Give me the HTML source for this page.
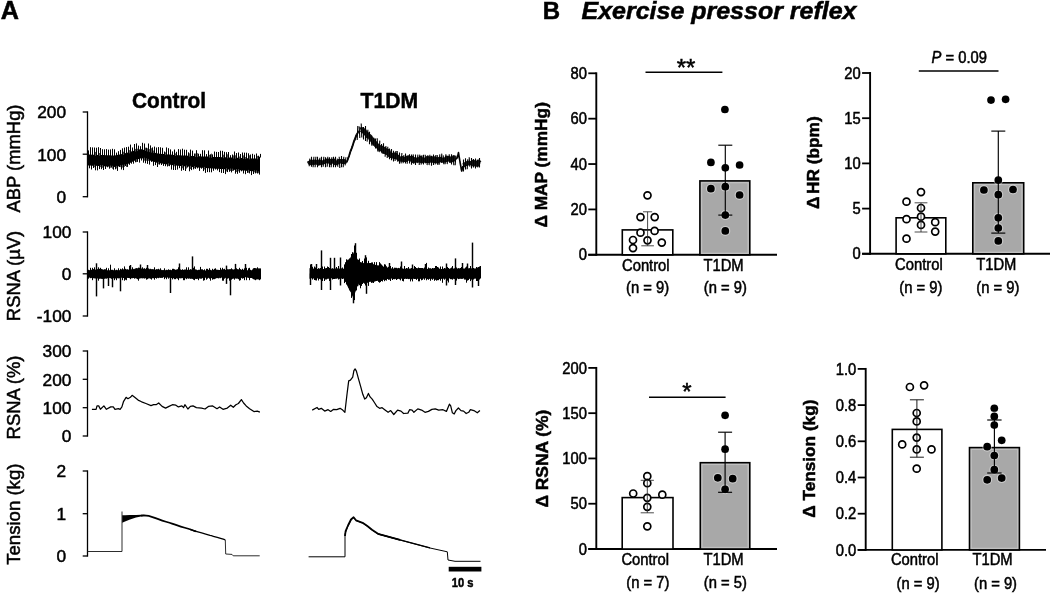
<!DOCTYPE html>
<html><head><meta charset="utf-8"><title>Figure</title>
<style>
html,body{margin:0;padding:0;background:#fff;}
body{width:1050px;height:593px;overflow:hidden;font-family:"Liberation Sans",sans-serif;}
svg{display:block;font-family:"Liberation Sans",sans-serif;filter:blur(0.45px);}
text{stroke:#000;stroke-width:0.5px;paint-order:stroke fill;}
</style></head><body>
<svg width="1050" height="593" viewBox="0 0 1050 593">
<rect width="1050" height="593" fill="#fff"/>
<text x="0.8" y="18.5" font-size="25.2" text-anchor="start" font-weight="bold" font-style="normal" fill="#000">A</text>
<text transform="translate(169.1 107.8) scale(0.935 1)" font-size="22.3" text-anchor="middle" font-weight="bold" font-style="normal" fill="#000">Control</text>
<text transform="translate(389.3 107.8) scale(0.95 1)" font-size="22.3" text-anchor="middle" font-weight="bold" font-style="normal" fill="#000">T1DM</text>
<line x1="87.5" y1="111.35" x2="87.5" y2="197.35" stroke="#000" stroke-width="1.3" stroke-linecap="butt"/>
<line x1="82.7" y1="112" x2="87.5" y2="112" stroke="#000" stroke-width="1.3" stroke-linecap="butt"/>
<text x="66" y="118.3" font-size="17.3" text-anchor="end" font-weight="normal" font-style="normal" fill="#000">200</text>
<line x1="82.7" y1="154.2" x2="87.5" y2="154.2" stroke="#000" stroke-width="1.3" stroke-linecap="butt"/>
<text x="66" y="160.5" font-size="17.3" text-anchor="end" font-weight="normal" font-style="normal" fill="#000">100</text>
<line x1="82.7" y1="196.7" x2="87.5" y2="196.7" stroke="#000" stroke-width="1.3" stroke-linecap="butt"/>
<text x="66" y="203.0" font-size="17.3" text-anchor="end" font-weight="normal" font-style="normal" fill="#000">0</text>
<line x1="87.5" y1="231.35" x2="87.5" y2="316.65" stroke="#000" stroke-width="1.3" stroke-linecap="butt"/>
<line x1="82.7" y1="232" x2="87.5" y2="232" stroke="#000" stroke-width="1.3" stroke-linecap="butt"/>
<text x="71.4" y="238.3" font-size="17.3" text-anchor="end" font-weight="normal" font-style="normal" fill="#000">100</text>
<line x1="82.7" y1="273.8" x2="87.5" y2="273.8" stroke="#000" stroke-width="1.3" stroke-linecap="butt"/>
<text x="71.4" y="280.1" font-size="17.3" text-anchor="end" font-weight="normal" font-style="normal" fill="#000">0</text>
<line x1="82.7" y1="316" x2="87.5" y2="316" stroke="#000" stroke-width="1.3" stroke-linecap="butt"/>
<text x="71.4" y="322.3" font-size="17.3" text-anchor="end" font-weight="normal" font-style="normal" fill="#000">-100</text>
<line x1="87.5" y1="350.35" x2="87.5" y2="436.65" stroke="#000" stroke-width="1.3" stroke-linecap="butt"/>
<line x1="82.7" y1="351" x2="87.5" y2="351" stroke="#000" stroke-width="1.3" stroke-linecap="butt"/>
<text x="71.4" y="357.3" font-size="17.3" text-anchor="end" font-weight="normal" font-style="normal" fill="#000">300</text>
<line x1="82.7" y1="379.3" x2="87.5" y2="379.3" stroke="#000" stroke-width="1.3" stroke-linecap="butt"/>
<text x="71.4" y="385.6" font-size="17.3" text-anchor="end" font-weight="normal" font-style="normal" fill="#000">200</text>
<line x1="82.7" y1="407.7" x2="87.5" y2="407.7" stroke="#000" stroke-width="1.3" stroke-linecap="butt"/>
<text x="71.4" y="414.0" font-size="17.3" text-anchor="end" font-weight="normal" font-style="normal" fill="#000">100</text>
<line x1="82.7" y1="436" x2="87.5" y2="436" stroke="#000" stroke-width="1.3" stroke-linecap="butt"/>
<text x="71.4" y="442.3" font-size="17.3" text-anchor="end" font-weight="normal" font-style="normal" fill="#000">0</text>
<line x1="87.5" y1="470.35" x2="87.5" y2="556.65" stroke="#000" stroke-width="1.3" stroke-linecap="butt"/>
<line x1="82.7" y1="471" x2="87.5" y2="471" stroke="#000" stroke-width="1.3" stroke-linecap="butt"/>
<text x="66" y="477.3" font-size="17.3" text-anchor="end" font-weight="normal" font-style="normal" fill="#000">2</text>
<line x1="82.7" y1="513.7" x2="87.5" y2="513.7" stroke="#000" stroke-width="1.3" stroke-linecap="butt"/>
<text x="66" y="520.0" font-size="17.3" text-anchor="end" font-weight="normal" font-style="normal" fill="#000">1</text>
<line x1="82.7" y1="556" x2="87.5" y2="556" stroke="#000" stroke-width="1.3" stroke-linecap="butt"/>
<text x="66" y="562.3" font-size="17.3" text-anchor="end" font-weight="normal" font-style="normal" fill="#000">0</text>
<text x="19.6" y="158.5" font-size="18.4" text-anchor="middle" font-weight="normal" font-style="normal" fill="#000" transform="rotate(-90 19.6 158.5)">ABP (mmHg)</text>
<text x="19.6" y="276" font-size="18.4" text-anchor="middle" font-weight="normal" font-style="normal" fill="#000" transform="rotate(-90 19.6 276)">RSNA (µV)</text>
<text x="19.6" y="397.5" font-size="18.4" text-anchor="middle" font-weight="normal" font-style="normal" fill="#000" transform="rotate(-90 19.6 397.5)">RSNA (%)</text>
<text x="19.6" y="514.2" font-size="18.6" text-anchor="middle" font-weight="normal" font-style="normal" fill="#000" transform="rotate(-90 19.6 514.2)">Tension (kg)</text>
<polygon points="88,154.5 90,154.6 92,154.7 94,154.8 96,154.8 98,154.9 100,155 102,155.1 104,155.1 106,155.2 108,155.3 110,155.3 112,155.4 114,155.5 116,155.3 118,154.8 120,154.4 122,153.9 124,153.5 126,153 128,152.4 130,151.9 132,151.3 134,150.8 136,150.2 138,149.8 140,149.2 142,149.3 144,149.9 146,150.4 148,151 150,151.5 152,152 154,152.5 156,153 158,153.5 160,153.7 162,153.9 164,154 166,154.2 168,154.4 170,154.6 172,154.7 174,154.9 176,155.1 178,155.2 180,155.3 182,155.4 184,155.5 186,155.6 188,155.7 190,155.8 192,155.9 194,156 196,156.1 198,156.2 200,156.3 202,156.4 204,156.5 206,156.5 208,156.6 210,156.7 212,156.8 214,156.9 216,156.9 218,157 220,157.1 222,157.2 224,157.2 226,157.3 228,157.4 230,157.5 232,157.6 234,157.7 236,157.7 238,157.8 240,157.9 242,158 244,158.1 246,158.2 248,158.3 250,158.3 252,158.4 254,158.5 256,158.6 258,157.6 260,156.5 260,174 258,172.8 256,171.5 254,171.3 252,171.2 250,171.1 248,170.9 246,170.8 244,170.6 242,170.4 240,170.3 238,170.2 236,170 234,169.8 232,169.7 230,169.6 228,169.4 226,169.3 224,169.2 222,169 220,168.9 218,168.8 216,168.7 214,168.6 212,168.4 210,168.3 208,168.2 206,168.1 204,167.9 202,167.8 200,167.7 198,167.5 196,167.3 194,167.2 192,167 190,166.8 188,166.6 186,166.5 184,166.3 182,166.1 180,165.9 178,165.8 176,165.6 174,165.4 172,165.1 170,164.8 168,164.5 166,164.2 164,163.9 162,163.6 160,163.3 158,163 156,162.4 154,161.8 152,161.2 150,160.6 148,160 146,159.4 144,158.9 142,158.3 140,158.4 138,159.2 136,160.1 134,161 132,162 130,163 128,164 126,165 124,165.4 122,165.7 120,166.1 118,166.5 116,166.8 114,166.9 112,166.8 110,166.7 108,166.5 106,166.4 104,166.3 102,166.1 100,166 98,165.9 96,165.8 94,165.8 92,165.7 90,165.6 88,165.5" fill="#000"/>
<path d="M88.5 155.5V150.4M89.5 164.6V168.3M90.5 155.6V147.2M91.5 164.6V169.5M92.5 155.7V147.4M93.5 164.7V168M94.5 155.8V147.5M95.5 164.8V170.3M96.5 155.9V147.7M97.5 164.9V170.4M98.5 155.9V147.2M99.5 165V169.1M100.5 156V148M101.5 165.1V169.2M102.5 156.1V149.2M103.5 165.2V170M104.5 156.2V149.3M105.5 165.4V169M106.5 156.2V149.1M107.5 165.5V167.3M108.5 156.3V149.6M109.5 165.6V168.7M110.5 156.3V149.4M111.5 165.8V167.6M112.5 156.4V148.8M113.5 165.9V169.7M114.5 156.5V149.3M115.5 165.9V169.3M116.5 156.2V152.6M117.5 165.5V170.9M118.5 155.7V151.2M119.5 165.2V167M120.5 155.2V149.9M121.5 164.8V169.5M122.5 154.8V148.3M123.5 164.5V170.1M124.5 154.3V147.6M125.5 164.1V166M126.5 153.9V147.1M127.5 163.2V166.9M128.5 153.3V146.7M129.5 162.2V164.8M130.5 152.8V144.6M131.5 161.2V163.7M132.5 152.2V147.5M133.5 160.2V163.7M134.5 151.6V144M135.5 159.3V162.3M136.5 151.1V143.4M137.5 158.5V161.9M138.5 150.6V145.6M139.5 157.6V162.6M140.5 150.1V146.2M141.5 157.1V160.5M142.5 150.4V142.8M143.5 157.7V162.7M144.5 151V143.5M145.5 158.3V163.3M146.5 151.6V147.7M147.5 158.9V163.9M148.5 152.1V143.5M149.5 159.4V164.6M150.5 152.6V145.4M151.5 160.1V161.9M152.5 153.1V147.4M153.5 160.7V165.8M154.5 153.6V146.6M155.5 161.2V165.1M156.5 154.1V147.5M157.5 161.8V167M158.5 154.5V147.1M159.5 162.2V164.6M160.5 154.7V147.3M161.5 162.5V165M162.5 154.9V147.8M163.5 162.8V165.9M164.5 155.1V151.5M165.5 163.1V166.2M166.5 155.2V147.4M167.5 163.4V166.5M168.5 155.4V148.2M169.5 163.7V166.2M170.5 155.6V149.4M171.5 164V169.6M172.5 155.8V151.4M173.5 164.3V170M174.5 156V149.5M175.5 164.5V170M176.5 156.1V151.8M177.5 164.7V169.6M178.5 156.2V149.1M179.5 164.9V168.2M180.5 156.3V149.5M181.5 165.1V170.8M182.5 156.4V148.7M183.5 165.2V170.1M184.5 156.5V149.7M185.5 165.4V171M186.5 156.6V149.8M187.5 165.6V167.5M188.5 156.7V152.3M189.5 165.8V171.3M190.5 156.8V149.6M191.5 166V170.1M192.5 156.9V150.6M193.5 166.1V169.4M194.5 157V153.5M195.5 166.3V168.9M196.5 157.1V150.2M197.5 166.5V168.4M198.5 157.2V153.7M199.5 166.7V170.9M200.5 157.3V153.8M201.5 166.8V168.7M202.5 157.4V150.2M203.5 166.9V171.1M204.5 157.5V150.3M205.5 167V172.9M206.5 157.6V154.1M207.5 167.2V172.1M208.5 157.6V150.5M209.5 167.3V172.2M210.5 157.7V154.3M211.5 167.4V172.3M212.5 157.8V154.4M213.5 167.5V170.8M214.5 157.9V151.5M215.5 167.6V169.6M216.5 157.9V151.9M217.5 167.8V170.4M218.5 158V152M219.5 167.9V172.1M220.5 158.1V150.7M221.5 168V172.9M222.5 158.2V150.8M223.5 168.1V173M224.5 158.3V151.8M225.5 168.2V174.1M226.5 158.3V152.2M227.5 168.4V172.1M228.5 158.4V152M229.5 168.5V171.8M230.5 158.5V155.2M231.5 168.7V172.4M232.5 158.6V154.5M233.5 168.8V170.7M234.5 158.7V151.5M235.5 169V173.7M236.5 158.8V153M237.5 169.1V173.8M238.5 158.8V152.5M239.5 169.3V172.8M240.5 158.9V154M241.5 169.4V171.3M242.5 159V152.5M243.5 169.6V173.5M244.5 159.1V152.6M245.5 169.7V174.2M246.5 159.2V152.7M247.5 169.9V172.9M248.5 159.3V153.3M249.5 170V173.4M250.5 159.4V154.5M251.5 170.2V175.1M252.5 159.4V153.8M253.5 170.3V174M254.5 159.5V154.7M255.5 170.5V173.4M256.5 159.3V153.5M257.5 171.4V173.5M258.5 158.3V155.7M259.5 172.7V174.6M260.5 157.5V153.9" stroke="#000" stroke-width="1.0" fill="none" stroke-linejoin="round"/>
<path d="M94.5 164.7V167.2M95.5 155.8V151.9M99.5 155.9V153M100.5 165V167.1M102.5 165.1V167.8M110.5 165.6V167.8M112.5 165.8V168.8M116.5 165.9V168.5M120.5 165.2V167.1M122.5 164.8V167.6M123.5 154.8V151.7M124.5 164.5V166.9M126.5 164.1V167M129.5 153.3V150.1M135.5 151.6V148.9M136.5 159.3V162.1M137.5 151.1V148.7M144.5 157.7V160.7M145.5 151V147.7M146.5 158.3V160.8M147.5 151.6V148.3M148.5 158.9V160.9M149.5 152.1V149.1M151.5 152.6V148.2M153.5 153.1V150.5M158.5 161.8V164.3M165.5 155.1V152.3M168.5 163.4V165.9M174.5 164.3V166.3M175.5 156V153.3M182.5 165.1V168.3M186.5 165.4V168.6M189.5 156.7V153.3M190.5 165.8V169M194.5 166.1V168.3M195.5 157V153.5M197.5 157.1V153.2M204.5 166.9V169.5M209.5 157.6V154.8M211.5 157.7V153.6M223.5 158.2V154.7M226.5 168.2V171.4M227.5 158.3V154.3M230.5 168.5V171M232.5 168.7V171M233.5 158.6V155.4M235.5 158.7V155.3M236.5 169V172M238.5 169.1V171.3M239.5 158.8V156.5M243.5 159V155.4M245.5 159.1V157M248.5 169.9V172.7M249.5 159.3V155.3M254.5 170.3V172.3M256.5 170.5V172.8M257.5 159.3V155.9M258.5 171.4V173" stroke="#555" stroke-width="1.0" fill="none" stroke-linejoin="round"/>
<path d="M308.8 160.8L310 163L311.2 161.8L312.4 162L313.6 163L314.8 161.7L316 162L317.2 162.6L318.4 163.4L319.6 161.5L320.8 163L322 162.6L323.2 162.4L324.4 161.7L325.6 161.5L326.8 160.7L328 160.9L329.2 160.7L330.4 162.7L331.6 161.3L332.8 161L334 160.8L335.2 163L336.4 163.1L337.6 162.5L338.8 161.3L340 161.2L341.2 161.4L342.4 161.9L343.6 161L344.8 161.8L346 161.3" stroke="#111" stroke-width="4.4" fill="none" stroke-linejoin="round"/>
<path d="M346 162.5L347.5 160.2L349 156L350.5 151.2L352 147.6L353.5 142.7L355 138.7L356.5 134.8L358 132.4L359.5 131" stroke="#111" stroke-width="1.9" fill="none" stroke-linejoin="round"/>
<path d="M360.5 130L361.7 129.5L362.9 131L364.1 130.7L365.3 132.9L366.5 133.7L367.7 135.9L368.9 135.9L370.1 137.1L371.3 139.2L372.5 140.1L373.7 142.3L374.9 143.1L376.1 144.9L377.3 145.6L378.5 146.9L379.7 148.5L380.9 147.7L382.1 148.3L383.3 151.2L384.5 149.3L385.7 151.9L386.9 152.4L388.1 151.3L389.3 154.6L390.5 155.5L391.7 155.1L392.9 155.9L394.1 156.6L395.3 155L396.5 156.7L397.7 157.1L398.9 158.6L400.1 159L401.3 159.2L402.5 158.6L403.7 159.8L404.9 159.3L406.1 159.5L407.3 158.2L408.5 157.8L409.7 158.3L410.9 159.1L412.1 158.3L413.3 160.7L414.5 159.8L415.7 160.1L416.9 160.1L418.1 160.3L419.3 159.8L420.5 158.3L421.7 160.8L422.9 160.7L424.1 160L425.3 160.1L426.5 160.5L427.7 158.5L428.9 160.7L430.1 159.1L431.3 158.5L432.5 159.1L433.7 160.5L434.9 158.8L436.1 160.5L437.3 161.2L438.5 159.6L439.7 159.3L440.9 159.5L442.1 160.2L443.3 160.4L444.5 159.9L445.7 159.9L446.9 158.1L448.1 158.3L449.3 158.6L450.5 160.2L451.7 158.8L452.9 159.6L454.1 157.8L455.3 157.9" stroke="#111" stroke-width="5.0" fill="none" stroke-linejoin="round"/>
<path d="M456 159.3L457.5 157L458.5 152.5L460 162L461.7 171L463 166" stroke="#000" stroke-width="1.6" fill="none" stroke-linejoin="round"/>
<path d="M463 165.3L464.2 165L465.4 164.1L466.6 163.9L467.8 162.7L469 163.3L470.2 163.1L471.4 163.1L472.6 162.1L473.8 164.4L475 162.3L476.2 164.6L477.4 164.5L478.6 161.8L479.8 163.1" stroke="#111" stroke-width="4.4" fill="none" stroke-linejoin="round"/>
<path d="M309.2 166.2L309.8 158.6M311.5 166.7L311.5 156.8M313.1 167.2L313.9 156.8M315.1 167.2L315.9 156.8M317.5 167.2L317.5 156.8M319.1 165.4L319.9 157.8M321.5 167.2L321.5 156.8M323.2 166.7L323.8 156.8M325.5 167.2L325.5 157.3M327.2 166.7L327.8 156.8M329.5 167.2L329.5 157.3M331.2 167.2L331.8 157.3M333.5 167.2L333.5 156.8M335.5 167.2L335.5 156.8M337.8 166.7L337.2 158.6M339.8 168L339.2 156.8M341.5 167.2L341.5 156M343.2 167.2L343.8 156.8M345.1 165.4L345.9 157.3M347 162.3L348.2 157.2M349 157.1L350.2 151.9M351 151.2L352.2 146M353 145.5L354.2 140.3M355 140.3L356.2 135.1M357.2 140L357.8 126M359.8 138L359.2 126.5M361.8 137.4L361.2 123.4M363.5 139.6L363.5 127M365.5 140.9L365.5 125.9M367.1 141.6L367.9 129.8M369.5 144.2L369.5 131.8M371.8 145.6L371.2 136M373.2 145.8L373.8 137.8M375.5 148.5L375.5 138.6M377.8 151.5L377.2 138.2M379.2 152.1L379.8 140.6M381.5 152.1L381.5 144M383.5 153.4L383.5 143.3M385.1 156.7L385.9 146M387.2 158L387.8 146.8M389.5 159.3L389.5 148.6M391.5 160.2L391.5 149M393.5 161.4L393.5 150.7M395.1 160.9L395.9 151M397.8 161.7L397.2 151M399.5 163.8L399.5 152.6M401.1 163.4L401.9 153M403.1 163.2L403.9 155.1M405.5 163.5L405.5 153.6M407.2 163.8L407.8 155.7M409.5 163.6L409.5 154.2M411.5 164.8L411.5 154.4M413.8 163.8L413.2 154.4M415.5 164.9L415.5 154.5M417.1 163.1L417.9 154.6M419.2 165L419.8 154.6M421.1 164.6L421.9 155.2M423.5 164.6L423.5 154.8M425.8 163.4L425.2 154.8M427.1 165.1L427.9 155.3M429.1 165.1L429.9 154.7M431.5 165.8L431.5 155.7M433.5 165L433.5 154.6M435.2 164.4L435.8 155.1M437.8 164.9L437.2 155M439.2 164.8L439.8 154.4M441.2 163L441.8 153.6M443.8 164.2L443.2 155.4M445.1 164.2L445.9 154.3M447.2 164.1L447.8 156.1M449.8 162.8L449.2 154.2M451.5 164.6L451.5 154.2M453.8 165.3L453.2 155.2M455.2 165.3L455.8 155.9M457.8 158.3L457.2 155.4M459.5 159.9L459.5 157.2M461.8 171.2L461.2 168.3M463.5 171.4L463.5 159.4M465.5 169.4L465.5 158.3M467.2 169.3L467.8 159.2M469.8 166.6L469.2 157.2M471.5 168.4L471.5 158M473.5 167.4L473.5 159M475.5 168.4L475.5 158.5M477.8 167.4L477.2 159.8M479.5 167.4L479.5 158" stroke="#000" stroke-width="1.1" fill="none" stroke-linejoin="round"/>
<polygon points="88,269.9 89,270.3 90,269.9 91,269.5 92,269.9 93,269.2 94,269.1 95,269.6 96,269.8 97,269.4 98,268.8 99,269.2 100,268.9 101,268.8 102,269.3 103,269.5 104,269.7 105,269.8 106,270.4 107,270.4 108,270 109,270 110,270.6 111,270.6 112,270.7 113,269.8 114,270.6 115,270.6 116,269.7 117,270.4 118,269.7 119,270.5 120,269.7 121,269 122,269.7 123,269.6 124,269.3 125,269.3 126,269.3 127,269.4 128,270.1 129,269.4 130,269.2 131,269.7 132,268.8 133,268.8 134,269.2 135,268.5 136,268.2 137,268.2 138,268.3 139,268.8 140,268.5 141,268.1 142,268.9 143,268.3 144,268.9 145,268.4 146,269.2 147,268.7 148,268.4 149,268.6 150,269.4 151,269.7 152,269.2 153,269.1 154,269.5 155,269.5 156,269.8 157,268.9 158,269.4 159,269.2 160,269.7 161,269.6 162,270.3 163,270.2 164,269.7 165,269.7 166,270.4 167,269.8 168,270.2 169,270 170,269.7 171,270.3 172,270.1 173,270.1 174,269.5 175,270 176,269.4 177,269.8 178,269.5 179,269.5 180,269 181,270 182,269.8 183,269.9 184,269.7 185,269.4 186,269.4 187,269.9 188,270.1 189,270 190,269.6 191,269.6 192,269.4 193,270.1 194,269.6 195,269.4 196,269.3 197,270 198,270.2 199,270 200,269.6 201,270.5 202,270.5 203,270.2 204,270.5 205,270.3 206,270.8 207,270.4 208,271.1 209,270.1 210,270.8 211,270.5 212,270 213,269.6 214,269.9 215,270.2 216,269.4 217,269.8 218,269.8 219,270 220,269.9 221,269.7 222,269.3 223,270 224,269.5 225,269.9 226,269.8 227,269.5 228,269.9 229,269.9 230,269 231,269.3 232,269 233,269.4 234,269.4 235,269.1 236,269.2 237,269.2 238,268.9 239,269.8 240,269.5 241,269.4 242,270.1 243,269.4 244,270 245,270 246,270.4 247,270.4 248,269.9 249,269.7 250,270 251,270.3 252,270.3 253,268.6 254,267.9 255,267.9 256,268.3 257,268.6 258,268.1 259,268.7 260,268.1 261,268.9 261,279.2 260,279.6 259,279.7 258,279.3 257,279.5 256,279.5 255,279.8 254,279.6 253,279.1 252,277.9 251,278.1 250,278 249,277.4 248,278 247,277.3 246,277.2 245,277.2 244,277.9 243,277.7 242,277.7 241,278.3 240,278.4 239,278.7 238,278.7 237,278.6 236,278.8 235,278.2 234,278.5 233,278.8 232,278.5 231,278.8 230,278.2 229,278.4 228,277.6 227,278.2 226,278.1 225,277.8 224,277.6 223,277.4 222,277.7 221,277.5 220,277.6 219,278.4 218,278.2 217,278 216,277.7 215,277.9 214,277.7 213,277.7 212,278.3 211,278.1 210,277.5 209,277.4 208,277.8 207,278.1 206,277.8 205,277.8 204,277.7 203,277.7 202,278.6 201,278.7 200,278.5 199,278.4 198,278.6 197,279.2 196,278.8 195,279.1 194,279.3 193,279 192,278.5 191,278.9 190,278.1 189,278.9 188,278.4 187,278 186,278.3 185,278.4 184,278.5 183,278.2 182,278 181,278.6 180,278.3 179,278.3 178,278.1 177,278.3 176,278.4 175,278.4 174,278.2 173,278.3 172,277.9 171,278 170,277.5 169,277.9 168,277.5 167,277.4 166,277.7 165,277.7 164,276.9 163,277.6 162,277.8 161,278.1 160,277.5 159,277.9 158,277.7 157,278 156,278 155,278.1 154,278.6 153,278 152,278.4 151,277.9 150,278.4 149,278.2 148,278.5 147,277.6 146,278.1 145,278.5 144,278.6 143,277.9 142,278.6 141,278 140,278.8 139,278.5 138,278.4 137,278.6 136,278.5 135,277.9 134,278.1 133,277.9 132,278.5 131,278 130,277.7 129,278.1 128,278 127,277.4 126,277.6 125,277.9 124,278 123,277.9 122,277.7 121,277.7 120,278 119,278.6 118,278.3 117,278.3 116,278.6 115,278.4 114,278.4 113,278.1 112,278.7 111,278.2 110,278.2 109,277.8 108,278 107,278.5 106,278.8 105,278.2 104,278.6 103,278.7 102,279 101,278.7 100,278.5 99,278.3 98,278.2 97,278.7 96,279 95,277.9 94,278.5 93,277.9 92,278.2 91,277.8 90,277.7 89,277.5 88,277.5" fill="#000"/>
<path d="M88.5 269.8V278.7M90.5 267.8V278.2M92.5 267.8V280.2M94.5 267.3V278.2M96.5 270.3V277.7M98.5 267.3V280.7M99.5 268.8V278.7M100.5 267.8V278.2M102.5 269.8V278.7M104.5 269.3V278.7M105.5 269.3V278.2M106.5 267.8V278.2M108.5 268.3V277.7M110.5 264.7V277.7M111.5 269.8V278.7M112.5 269.8V279.2M114.5 268.3V280.2M116.5 269.8V280.2M118.5 268.3V277.7M120.5 268.8V279.2M122.5 268.3V280.2M123.5 269.8V277.7M124.5 266.4V280.7M125.5 268.8V279.7M126.5 270.3V280.2M127.5 269.3V277.7M128.5 269.8V277.7M129.5 266V278.2M130.5 268.8V279.2M132.5 267.3V277.7M134.5 269.8V278.7M136.5 268.3V278.2M137.5 269.3V279.2M138.5 267.6V280.7M139.5 267.8V277.7M140.5 268.3V277.7M142.5 267.3V278.2M144.5 268.3V278.2M146.5 267.8V279.7M147.5 269.8V279.2M148.5 268.8V278.2M150.5 268.8V278.7M151.5 269.3V279.6M152.5 270.3V277.7M154.5 267.3V279.7M156.5 269.3V278.7M158.5 268.8V278.2M160.5 268.3V277.7M162.5 270.3V277.7M164.5 268.3V279.2M166.5 269.8V279.2M168.5 269.3V278.7M170.5 269.8V279.7M172.5 268.8V279.4M173.5 268.8V277.7M174.5 269.3V279.2M175.5 270.3V279.2M176.5 269.8V277.7M177.5 269.3V278.7M178.5 267.3V280.2M180.5 269.8V277.7M182.5 269.3V277.7M183.5 270.3V280.2M184.5 269.8V280.2M186.5 267.3V279.2M187.5 269.8V278.2M188.5 267.3V277.7M190.5 269.3V278.7M192.5 269.3V278.7M193.5 267.8V279.7M194.5 266.4V280.2M196.5 270.3V278.7M198.5 269.8V280.2M200.5 266.9V278.2M201.5 269.3V278.2M202.5 269.3V277.7M203.5 270.3V280.7M204.5 269.3V280.2M206.5 268.8V279.7M207.5 268.8V278.7M208.5 269.8V277.7M209.5 268.2V278.7M210.5 269.8V280.7M212.5 268.8V279.7M213.5 270.3V279.2M214.5 268.8V279.2M215.5 268.3V278.7M216.5 270.3V278.2M218.5 270.3V277.7M220.5 267.8V278.2M222.5 267.8V280.7M223.5 269.3V280.7M224.5 268.8V278.7M226.5 269.8V279.2M227.5 269.3V278.7M228.5 269.3V278.2M229.5 269.3V280.7M230.5 270.3V278.2M231.5 268.3V279.7M232.5 270.3V278.7M234.5 269.8V279.7M236.5 268.3V278.2M238.5 269.8V279.2M239.5 267.8V280.7M240.5 269.3V280.2M242.5 268.8V278.7M243.5 270.3V278.2M244.5 268.3V280.2M246.5 267.8V280.2M248.5 268.3V277.7M249.5 267.8V280.2M250.5 269.8V277.7M252.5 270.3V278.2M254.5 268.3V278.2M255.5 269.3V280.2M256.5 269.8V277.7M257.5 267.3V277.7M258.5 269.8V277.7M259.5 269.3V280.2M260.5 268.8V277.7" stroke="#000" stroke-width="1.0" fill="none" stroke-linejoin="round"/>
<line x1="96.5" y1="274" x2="96.5" y2="296.4" stroke="#000" stroke-width="1.45" stroke-linecap="butt"/>
<line x1="103.5" y1="274" x2="103.5" y2="288.4" stroke="#000" stroke-width="1.45" stroke-linecap="butt"/>
<line x1="108.5" y1="274" x2="108.5" y2="286" stroke="#000" stroke-width="1.45" stroke-linecap="butt"/>
<line x1="112.5" y1="274" x2="112.5" y2="287.3" stroke="#000" stroke-width="1.45" stroke-linecap="butt"/>
<line x1="120.5" y1="274" x2="120.5" y2="291.3" stroke="#000" stroke-width="1.45" stroke-linecap="butt"/>
<line x1="170.5" y1="274" x2="170.5" y2="293" stroke="#000" stroke-width="1.45" stroke-linecap="butt"/>
<line x1="230.5" y1="274" x2="230.5" y2="295.3" stroke="#000" stroke-width="1.45" stroke-linecap="butt"/>
<line x1="96.5" y1="274" x2="96.5" y2="263.3" stroke="#000" stroke-width="1.45" stroke-linecap="butt"/>
<line x1="192.5" y1="274" x2="192.5" y2="256.4" stroke="#000" stroke-width="1.45" stroke-linecap="butt"/>
<line x1="226.5" y1="274" x2="226.5" y2="265.6" stroke="#000" stroke-width="1.45" stroke-linecap="butt"/>
<line x1="235.5" y1="274" x2="235.5" y2="263.9" stroke="#000" stroke-width="1.45" stroke-linecap="butt"/>
<line x1="245.5" y1="274" x2="245.5" y2="264" stroke="#000" stroke-width="1.45" stroke-linecap="butt"/>
<line x1="179.5" y1="274" x2="179.5" y2="263.5" stroke="#000" stroke-width="1.45" stroke-linecap="butt"/>
<line x1="130.5" y1="274" x2="130.5" y2="265" stroke="#000" stroke-width="1.45" stroke-linecap="butt"/>
<line x1="147.5" y1="274" x2="147.5" y2="265" stroke="#000" stroke-width="1.45" stroke-linecap="butt"/>
<line x1="226.5" y1="274" x2="226.5" y2="283.9" stroke="#000" stroke-width="1.45" stroke-linecap="butt"/>
<line x1="140.5" y1="274" x2="140.5" y2="264.5" stroke="#000" stroke-width="1.45" stroke-linecap="butt"/>
<polygon points="309.5,268.3 310.2,268.1 311,268.8 311.8,268.8 312.5,268.9 313.2,268.2 314,268.9 314.8,268.7 315.5,268.1 316.2,268.3 317,268.9 317.8,268.9 318.5,268 319.2,268.6 320,268.7 320.8,268.6 321.5,268.5 322.2,268.2 323,268.9 323.8,269 324.5,268.7 325.2,268.3 326,268.8 326.8,269 327.5,268.3 328.2,268.4 329,268.9 329.8,268.3 330.5,269 331.2,268.8 332,268.4 332.8,268.2 333.5,268.9 334.2,268.1 335,268.7 335.8,268.3 336.5,268.7 337.2,268.5 338,268.3 338.8,268.3 339.5,268.8 340.2,268.5 341,268.1 341.8,268.5 342.5,269 343.2,268.9 344,268.2 344.8,266.8 345.5,265.2 346.2,262.5 347,260.6 347.8,259.6 348.5,259.7 349.2,258.2 350,258.4 350.8,256.7 351.5,256.3 352.2,255.1 353,254 353.8,252.2 354.5,249.9 355.2,250.7 356,253.7 356.8,257.6 357.5,259.6 358.2,259.3 359,262.9 359.8,262.5 360.5,263.6 361.2,263.6 362,264.1 362.8,263.6 363.5,262.8 364.2,263.4 365,262.4 365.8,262.1 366.5,262.9 367.2,263.2 368,262.8 368.8,263.1 369.5,262.9 370.2,263.3 371,264 371.8,264 372.5,264.5 373.2,264.5 374,264.5 374.8,264.7 375.5,265.1 376.2,264.6 377,265 377.8,265.4 378.5,265.4 379.2,265.3 380,265.9 380.8,266.1 381.5,265.8 382.2,266.2 383,266.7 383.8,266.6 384.5,266.4 385.2,266.6 386,267.6 386.8,266.9 387.5,267.5 388.2,268.1 389,267.7 389.8,268.2 390.5,268.3 391.2,268.5 392,268.3 392.8,268.5 393.5,268.7 394.2,267.9 395,268 395.8,268.1 396.5,268.5 397.2,268.5 398,268.7 398.8,268.6 399.5,268 400.2,268.4 401,268.7 401.8,268.8 402.5,268.7 403.2,268.8 404,268.8 404.8,268.5 405.5,268.7 406.2,268.5 407,268.4 407.8,268.2 408.5,268.5 409.2,268.7 410,268.6 410.8,268.5 411.5,268.3 412.2,268.5 413,268.7 413.8,268.7 414.5,269 415.2,268.1 416,268.8 416.8,268.6 417.5,268.1 418.2,268.7 419,268.5 419.8,269 420.5,268 421.2,268.4 422,268.5 422.8,268.1 423.5,268.6 424.2,268.5 425,268.9 425.8,269 426.5,268.7 427.2,268.7 428,269 428.8,268.6 429.5,268.3 430.2,268.1 431,268.9 431.8,268.4 432.5,268.1 433.2,268.2 434,268.3 434.8,268.9 435.5,268.9 436.2,268.2 437,268.2 437.8,268.6 438.5,269 439.2,268.7 440,268.6 440.8,268.9 441.5,268.9 442.2,268.9 443,268.2 443.8,268.9 444.5,268.9 445.2,268.2 446,268.4 446.8,268 447.5,268.4 448.2,268.2 449,268.8 449.8,268.8 450.5,268.5 451.2,268.4 452,268.6 452.8,268.8 453.5,268.5 454.2,268.5 455,268.6 455.8,268.2 456.5,268.5 457.2,268.5 458,268.4 458.8,268 459.5,268.3 460.2,268.9 461,268.6 461.8,268.5 462.5,268.7 463.2,268.5 464,268.6 464.8,268.6 465.5,268.2 466.2,268.1 467,268.1 467.8,268.7 468.5,268.8 469.2,268.1 470,268.2 470.8,268.8 471.5,268.1 472.2,269 473,268.8 473.8,268.4 474.5,268.9 475.2,268.4 476,268.3 476.8,268.9 477.5,268.7 478.2,268.3 479,268.6 479.8,268.5 479.8,278.3 479,278.6 478.2,278.3 477.5,278.3 476.8,278.5 476,278.6 475.2,278.8 474.5,278.7 473.8,278.7 473,278.5 472.2,278.6 471.5,278.5 470.8,279 470,279 469.2,278.7 468.5,278.6 467.8,278.3 467,278.7 466.2,278.5 465.5,278.3 464.8,278.5 464,278.8 463.2,278.3 462.5,279 461.8,278.9 461,278.7 460.2,278.2 459.5,279 458.8,278.9 458,278.9 457.2,278.3 456.5,279.1 455.8,278.8 455,278.6 454.2,278.3 453.5,279 452.8,278.6 452,279 451.2,278.5 450.5,279 449.8,278.3 449,278.7 448.2,278.7 447.5,279.2 446.8,278.5 446,278.9 445.2,278.5 444.5,279.2 443.8,278.4 443,279 442.2,278.6 441.5,279 440.8,278.8 440,279 439.2,279.2 438.5,279.1 437.8,278.7 437,278.5 436.2,279.1 435.5,278.6 434.8,279.2 434,279.2 433.2,278.4 432.5,279.2 431.8,279.2 431,278.6 430.2,278.7 429.5,279.1 428.8,278.6 428,279 427.2,279.2 426.5,278.4 425.8,278.3 425,278.6 424.2,278.7 423.5,278.6 422.8,279.1 422,279.2 421.2,279 420.5,278.7 419.8,278.7 419,279.2 418.2,278.4 417.5,279 416.8,278.5 416,278.4 415.2,278.4 414.5,278.9 413.8,279 413,278.4 412.2,278.4 411.5,278.8 410.8,278.8 410,279.3 409.2,278.7 408.5,279.2 407.8,279 407,278.6 406.2,278.9 405.5,278.8 404.8,278.4 404,279 403.2,278.6 402.5,278.6 401.8,278.6 401,278.9 400.2,279.3 399.5,279.4 398.8,278.4 398,278.9 397.2,279.2 396.5,279.2 395.8,278.5 395,279.2 394.2,279.3 393.5,279.1 392.8,279.2 392,278.7 391.2,278.5 390.5,278.4 389.8,279.3 389,278.7 388.2,279 387.5,278.9 386.8,279 386,279 385.2,279.3 384.5,279.7 383.8,279.9 383,279.5 382.2,279.7 381.5,279.8 380.8,280.2 380,280.1 379.2,280.4 378.5,280.3 377.8,280.7 377,281.1 376.2,281 375.5,281.3 374.8,281.5 374,281.4 373.2,281.6 372.5,281.2 371.8,281.8 371,281.6 370.2,282.1 369.5,281.7 368.8,282.6 368,282.6 367.2,283 366.5,283.1 365.8,283.3 365,283.5 364.2,283.4 363.5,282.8 362.8,283.1 362,282.7 361.2,283.2 360.5,283 359.8,283.9 359,283.4 358.2,286.2 357.5,286 356.8,288 356,290.4 355.2,292.6 354.5,295 353.8,296 353,297.3 352.2,295.6 351.5,294.3 350.8,292.3 350,291.2 349.2,290 348.5,288 347.8,286.7 347,285.2 346.2,283.8 345.5,280.6 344.8,279.5 344,278.4 343.2,278.8 342.5,278.5 341.8,278.8 341,278.3 340.2,278.3 339.5,279.1 338.8,279 338,278.3 337.2,278.5 336.5,278.7 335.8,278.9 335,278.5 334.2,279 333.5,279 332.8,279 332,278.3 331.2,278.2 330.5,278.6 329.8,279 329,278.8 328.2,278.3 327.5,278.8 326.8,278.5 326,278.3 325.2,278.7 324.5,278.8 323.8,278.3 323,278.4 322.2,279 321.5,278.6 320.8,279 320,278.7 319.2,279 318.5,279 317.8,278.6 317,278.3 316.2,279 315.5,278.4 314.8,278.7 314,278.4 313.2,278.5 312.5,278.4 311.8,278.2 311,278.3 310.2,278.7 309.5,278.7" fill="#000"/>
<path d="M310.5 264.5V279M312.5 266.8V279.5M314.5 266.5V280M315.5 267.5V280.3M316.5 268V280.5M318.5 268.5V280.5M320.5 268V279.5M322.5 266.5V281M324.5 266.5V281M325.5 268.5V279.5M326.5 268V279.5M327.5 266.5V278.5M328.5 267V278.5M329.5 268V281M330.5 269V279.5M332.5 268.5V279.5M334.5 269V279M336.5 267V278M338.5 266V279.5M340.5 268.5V279.5M342.5 267.5V279M344.5 264.4V283.1M345.5 262.2V281.9M346.5 259.3V284.3M348.5 262.8V287.6M350.5 260.3V290.3M351.5 254V297.9M352.5 252.2V288.1M354.5 245.5V300.1M356.5 252.8V290.4M357.5 260.8V285M358.5 260V282.7M359.5 258.5V285.2M360.5 262.1V288.3M361.5 262.4V285.9M362.5 261V284M364.5 258.5V283.4M365.5 263.3V285.5M366.5 257.4V286.9M368.5 260.8V285.9M370.5 263V281M371.5 262.5V282.9M372.5 262.4V282.6M373.5 264.4V283M374.5 262.1V281.3M376.5 262.1V280.8M378.5 265.8V281.9M379.5 262.1V282.7M380.5 263.4V282.1M381.5 264.5V281M382.5 265.6V281.5M384.5 264.2V281.2M385.5 264.6V280.2M386.5 266.3V280.6M388.5 266.8V279.8M389.5 267.3V279.6M390.5 266V281M392.5 267.1V280M394.5 267.7V278.5M395.5 267.8V278.5M396.5 267.8V280M397.5 268.4V278.5M398.5 267.9V278.5M400.5 266.5V280.4M402.5 268.5V280.9M403.5 269V281.4M404.5 266V278.9M406.5 268V278.9M408.5 267V278.9M410.5 269V281.4M411.5 268V279.4M412.5 268.5V281.4M414.5 266V278.9M415.5 267V278.9M416.5 268V279.9M418.5 267.5V281.3M419.5 268V281.3M420.5 268V278.3M421.5 268V280.3M422.5 268V279.8M424.5 267.5V279.8M426.5 262.9V280.3M428.5 267.5V279.8M430.5 268.5V280.8M432.5 268V279.8M434.5 268V280.8M435.5 266V279.8M436.5 266V280.7M437.5 267V280.2M438.5 267.5V280.2M440.5 266.5V280.7M442.5 266.5V282.8M444.5 268V279.7M446.5 267V279.7M447.5 267V280.7M448.5 268V282.5M450.5 268.5V279.2M451.5 267.5V279.2M452.5 266V279.7M454.5 268.5V279.1M456.5 267.5V280.6M458.5 268.5V279.1M460.5 268V278.6M461.5 267V278.1M462.5 263V278.1M464.5 269V279.6M465.5 267.5V279.6M466.5 266.5V282.7M467.5 268V280.6M468.5 268.5V280.1M470.5 266V281.1M471.5 269V279.6M472.5 267V278M473.5 268V279.5M474.5 268.5V278M476.5 267V281M477.5 267.5V281M478.5 267V279.5M479.5 266.5V279.5M480.5 266V278.5" stroke="#000" stroke-width="1.0" fill="none" stroke-linejoin="round"/>
<line x1="321.5" y1="273.5" x2="321.5" y2="250.4" stroke="#000" stroke-width="1.45" stroke-linecap="butt"/>
<line x1="330.5" y1="273.5" x2="330.5" y2="257.8" stroke="#000" stroke-width="1.45" stroke-linecap="butt"/>
<line x1="334.5" y1="273.5" x2="334.5" y2="257.8" stroke="#000" stroke-width="1.45" stroke-linecap="butt"/>
<line x1="340.5" y1="273.5" x2="340.5" y2="257.5" stroke="#000" stroke-width="1.45" stroke-linecap="butt"/>
<line x1="316.5" y1="273.5" x2="316.5" y2="264" stroke="#000" stroke-width="1.45" stroke-linecap="butt"/>
<line x1="311.5" y1="273.5" x2="311.5" y2="264" stroke="#000" stroke-width="1.45" stroke-linecap="butt"/>
<line x1="401.5" y1="273.5" x2="401.5" y2="261.5" stroke="#000" stroke-width="1.45" stroke-linecap="butt"/>
<line x1="389.5" y1="273.5" x2="389.5" y2="263" stroke="#000" stroke-width="1.45" stroke-linecap="butt"/>
<line x1="455.5" y1="273.5" x2="455.5" y2="258.4" stroke="#000" stroke-width="1.45" stroke-linecap="butt"/>
<line x1="462.5" y1="273.5" x2="462.5" y2="263" stroke="#000" stroke-width="1.45" stroke-linecap="butt"/>
<line x1="467.5" y1="273.5" x2="467.5" y2="263.5" stroke="#000" stroke-width="1.45" stroke-linecap="butt"/>
<line x1="446.5" y1="273.5" x2="446.5" y2="263.5" stroke="#000" stroke-width="1.45" stroke-linecap="butt"/>
<line x1="472.5" y1="273.5" x2="472.5" y2="242.6" stroke="#000" stroke-width="1.45" stroke-linecap="butt"/>
<line x1="425.5" y1="273.5" x2="425.5" y2="264" stroke="#000" stroke-width="1.45" stroke-linecap="butt"/>
<line x1="412.5" y1="273.5" x2="412.5" y2="264.5" stroke="#000" stroke-width="1.45" stroke-linecap="butt"/>
<line x1="321.5" y1="273.5" x2="321.5" y2="290" stroke="#000" stroke-width="1.45" stroke-linecap="butt"/>
<line x1="330.5" y1="273.5" x2="330.5" y2="290" stroke="#000" stroke-width="1.45" stroke-linecap="butt"/>
<line x1="310.5" y1="273.5" x2="310.5" y2="285" stroke="#000" stroke-width="1.45" stroke-linecap="butt"/>
<line x1="340.5" y1="273.5" x2="340.5" y2="285.5" stroke="#000" stroke-width="1.45" stroke-linecap="butt"/>
<line x1="366.5" y1="273.5" x2="366.5" y2="293.8" stroke="#000" stroke-width="1.45" stroke-linecap="butt"/>
<line x1="472.5" y1="273.5" x2="472.5" y2="287.5" stroke="#000" stroke-width="1.45" stroke-linecap="butt"/>
<line x1="478.5" y1="273.5" x2="478.5" y2="286" stroke="#000" stroke-width="1.45" stroke-linecap="butt"/>
<line x1="446.5" y1="273.5" x2="446.5" y2="285.5" stroke="#000" stroke-width="1.45" stroke-linecap="butt"/>
<line x1="455.5" y1="273.5" x2="455.5" y2="285" stroke="#000" stroke-width="1.45" stroke-linecap="butt"/>
<line x1="355.5" y1="273.5" x2="355.5" y2="243.2" stroke="#000" stroke-width="1.45" stroke-linecap="butt"/>
<line x1="365.5" y1="273.5" x2="365.5" y2="255.2" stroke="#000" stroke-width="1.45" stroke-linecap="butt"/>
<line x1="353.5" y1="273.5" x2="353.5" y2="303.3" stroke="#000" stroke-width="1.45" stroke-linecap="butt"/>
<path d="M91.9 409.3L96.1 409.3L97 405.9L98.7 405.9L100.4 409.3L103.9 405.9L106.4 409.3L110.7 406.9L113.3 406.9L115 409.3L118.4 408.7L120.1 409.3L121.9 406.9L123.6 401.3L126.1 397.3L127.9 398.7L130.4 397.3L132.1 395.3L134.7 397.3L138.1 400.1L141.6 401.8L145.9 403.5L151 405.6L153.6 404.7L156.1 404.7L158.7 403L162.1 406.4L165.6 408.1L169 406.4L172.4 404.7L175.9 405.2L178.4 406.9L181.9 405.9L183.6 407.6L184.9 404.7L187.9 409L190.4 406.4L193 405.9L196.4 407.6L201.6 408.1L205 409L208.4 406.4L212.7 405.9L217 408.7L219.6 406.9L223 409.3L227.3 408.1L230.7 405.2L233.3 407.3L235.9 404.7L238.4 403.5L241.4 399.6L243.6 403L246.2 405.9L249.6 408.7L253.9 411.6L257.3 411.1L259.9 412.1" stroke="#000" stroke-width="1.25" fill="none" stroke-linejoin="round"/>
<path d="M312.2 410.1L317 407.5L318.7 409.4L321.3 408.3L324.7 411.1L328.1 409.7L330.7 411.4L333.3 409.4L336.7 409.7L340.1 408.3L342.7 410.1L344.9 412.3L347 394.3L348.7 380.9L350.4 380.2L352.7 377.1L353.9 370.6L355.1 368.9L356.4 371.1L358.5 378.9L360.7 386.6L362.8 394.3L364.7 399.1L366.4 397.7L368.4 393.4L370.1 396.9L372.2 399.1L374.4 402.5L377 406.6L379.6 408.3L382.1 407.7L384.7 409.7L388.1 412.3L390.7 410.6L393.8 414.5L397.6 410.1L401 411.1L403.6 413.5L407.9 413.1L409.6 409.7L412.1 410.1L413.9 412.3L417.8 408.9L421.6 410.1L425 412.3L428.4 411.4L431.9 409.4L435.3 408.9L438.7 410.1L443 409.7L446.4 411.4L449.4 404.2L450.7 405.9L452.4 412.8L454.2 414L455.9 410.6L458.4 408L461 410.6L463.6 411.1L466.2 413.5L468.7 412.3L470.4 409.7L473.9 410.6L477.3 412.8L479.9 410.6" stroke="#000" stroke-width="1.25" fill="none" stroke-linejoin="round"/>
<path d="M87.5 551.5 L122 551.5 L122 511.5" stroke="#222" stroke-width="0.95" fill="none" stroke-linejoin="round"/>
<path d="M225.3 540 L225.7 554 L232 554.4 L233.2 555.8 L259.7 555.8" stroke="#222" stroke-width="0.95" fill="none" stroke-linejoin="round"/>
<polygon points="122.2,515.3 122.2,522.8 125,521.6 130,519.6 136,517.6 141,516.4 146,516 146,514.9 141,514.8 136,514.9 130,515 125,515.2" fill="#000"/>
<path d="M141 515.6 C146 515 150 516 154 517.6 C160 520 166 521.6 172 523.6 C180 526.5 188 528.6 196 531.4" stroke="#000" stroke-width="1.7" fill="none" stroke-linejoin="round"/>
<path d="M190 529.3 C198 532 204 533.4 210 535.4 C216 537 221 538.2 225.3 539.8" stroke="#000" stroke-width="1.3" fill="none" stroke-linejoin="round"/>
<path d="M308.6 556.8 L345 556.8 L345 534 L348 526 L351 520 L353.6 517.5 L356 520.5 L362.6 523 L367 526 L372 530 L378 534 L400 540 L430 548 L447.3 551.8 L448 560 L455 561.3 L480.5 561.3" stroke="#000" stroke-width="1.0" fill="none" stroke-linejoin="round"/>
<path d="M345 536 L345.6 531 L348 525.5 L351 519.5 L353.6 517.3 L356 520.3 L362.6 522.8 L367 525.8 L372 529.8 L378 533.8 L400 539.9" stroke="#000" stroke-width="1.8" fill="none" stroke-linejoin="round"/>
<path d="M378 533.8 L400 539.9 L430 547.9" stroke="#000" stroke-width="1.4" fill="none" stroke-linejoin="round"/>
<rect x="448.7" y="566.8" width="32.7" height="4.7" fill="#000"/>
<text transform="translate(462.6 586.9) scale(0.87 1)" font-size="12.8" text-anchor="middle" font-weight="bold" font-style="normal" fill="#000">10 s</text>
<text x="542.8" y="18.7" font-size="24" text-anchor="start" font-weight="bold" font-style="normal" fill="#000">B</text>
<text x="581.5" y="18.8" font-size="24" text-anchor="start" font-weight="bold" font-style="italic" fill="#000" textLength="275" lengthAdjust="spacingAndGlyphs">Exercise pressor reflex</text>
<line x1="596.3" y1="72.34599999999999" x2="596.3" y2="255.75" stroke="#000" stroke-width="1.9" stroke-linecap="butt"/>
<line x1="588.3" y1="254.8" x2="777" y2="254.8" stroke="#000" stroke-width="1.9" stroke-linecap="butt"/>
<line x1="588.3" y1="254.8" x2="596.3" y2="254.8" stroke="#000" stroke-width="1.8" stroke-linecap="butt"/>
<text transform="translate(586.9 260.40000000000003) scale(0.935 1)" font-size="15.8" text-anchor="end" font-weight="normal" font-style="normal" fill="#000">0</text>
<line x1="588.3" y1="209.424" x2="596.3" y2="209.424" stroke="#000" stroke-width="1.8" stroke-linecap="butt"/>
<text transform="translate(586.9 215.024) scale(0.935 1)" font-size="15.8" text-anchor="end" font-weight="normal" font-style="normal" fill="#000">20</text>
<line x1="588.3" y1="164.048" x2="596.3" y2="164.048" stroke="#000" stroke-width="1.8" stroke-linecap="butt"/>
<text transform="translate(586.9 169.648) scale(0.935 1)" font-size="15.8" text-anchor="end" font-weight="normal" font-style="normal" fill="#000">40</text>
<line x1="588.3" y1="118.672" x2="596.3" y2="118.672" stroke="#000" stroke-width="1.8" stroke-linecap="butt"/>
<text transform="translate(586.9 124.27199999999999) scale(0.935 1)" font-size="15.8" text-anchor="end" font-weight="normal" font-style="normal" fill="#000">60</text>
<line x1="588.3" y1="73.29599999999999" x2="596.3" y2="73.29599999999999" stroke="#000" stroke-width="1.8" stroke-linecap="butt"/>
<text transform="translate(586.9 78.89599999999999) scale(0.935 1)" font-size="15.8" text-anchor="end" font-weight="normal" font-style="normal" fill="#000">80</text>
<text x="547" y="164.8" font-size="17.3" text-anchor="middle" font-weight="bold" font-style="normal" fill="#000" transform="rotate(-90 547 164.8)">Δ MAP (mmHg)</text>
<rect x="622.3" y="229.9" width="50.5" height="24.9" fill="#fff" stroke="#000" stroke-width="1.6"/>
<rect x="699.9" y="180.9" width="49.9" height="73.9" fill="#a8a8a8" stroke="#000" stroke-width="1.6"/>
<rect x="701.6" y="182.6" width="46.5" height="70.7" fill="none" stroke="#fff" stroke-opacity="0.28" stroke-width="1.3"/>
<circle cx="647.5" cy="195.3" r="3.5" fill="#fff" stroke="#000" stroke-width="1.7"/>
<circle cx="640.5" cy="217.1" r="3.5" fill="#fff" stroke="#000" stroke-width="1.7"/>
<circle cx="654.7" cy="217.1" r="3.5" fill="#fff" stroke="#000" stroke-width="1.7"/>
<circle cx="654.6" cy="230.9" r="3.5" fill="#fff" stroke="#000" stroke-width="1.7"/>
<circle cx="640.5" cy="232.7" r="3.5" fill="#fff" stroke="#000" stroke-width="1.7"/>
<circle cx="633" cy="240" r="3.5" fill="#fff" stroke="#000" stroke-width="1.7"/>
<circle cx="647.5" cy="240.3" r="3.5" fill="#fff" stroke="#000" stroke-width="1.7"/>
<circle cx="661.8" cy="242.6" r="3.5" fill="#fff" stroke="#000" stroke-width="1.7"/>
<circle cx="633" cy="248.1" r="3.5" fill="#fff" stroke="#000" stroke-width="1.7"/>
<line x1="647.6" y1="211.8" x2="647.6" y2="245.8" stroke="#2a2a2a" stroke-width="0.85" stroke-linecap="butt"/>
<line x1="643.0" y1="211.8" x2="652.2" y2="211.8" stroke="#2a2a2a" stroke-width="0.85" stroke-linecap="butt"/>
<line x1="641.3000000000001" y1="245.8" x2="653.9" y2="245.8" stroke="#2a2a2a" stroke-width="0.85" stroke-linecap="butt"/>
<circle cx="724.9" cy="109.5" r="5.0" fill="#fff" fill-opacity="0.4"/>
<circle cx="724.9" cy="109.5" r="3.85" fill="#000"/>
<circle cx="710.9" cy="162.4" r="5.0" fill="#fff" fill-opacity="0.4"/>
<circle cx="710.9" cy="162.4" r="3.85" fill="#000"/>
<circle cx="725.3" cy="167.8" r="5.0" fill="#fff" fill-opacity="0.4"/>
<circle cx="725.3" cy="167.8" r="3.85" fill="#000"/>
<circle cx="739.6" cy="165" r="5.0" fill="#fff" fill-opacity="0.4"/>
<circle cx="739.6" cy="165" r="3.85" fill="#000"/>
<circle cx="710.9" cy="188.7" r="5.0" fill="#fff" fill-opacity="0.4"/>
<circle cx="710.9" cy="188.7" r="3.85" fill="#000"/>
<circle cx="725.3" cy="186.7" r="5.0" fill="#fff" fill-opacity="0.4"/>
<circle cx="725.3" cy="186.7" r="3.85" fill="#000"/>
<circle cx="739.6" cy="195" r="5.0" fill="#fff" fill-opacity="0.4"/>
<circle cx="739.6" cy="195" r="3.85" fill="#000"/>
<circle cx="725.3" cy="215.1" r="5.0" fill="#fff" fill-opacity="0.4"/>
<circle cx="725.3" cy="215.1" r="3.85" fill="#000"/>
<circle cx="725.3" cy="230.9" r="5.0" fill="#fff" fill-opacity="0.4"/>
<circle cx="725.3" cy="230.9" r="3.85" fill="#000"/>
<line x1="725.3" y1="145.2" x2="725.3" y2="215.1" stroke="#000" stroke-width="1.15" stroke-linecap="butt"/>
<line x1="718.3" y1="145.2" x2="732.3" y2="145.2" stroke="#000" stroke-width="1.15" stroke-linecap="butt"/>
<line x1="718.3" y1="215.1" x2="732.3" y2="215.1" stroke="#000" stroke-width="1.15" stroke-linecap="butt"/>
<text transform="translate(645.8 270.8) scale(0.935 1)" font-size="15.8" text-anchor="middle" font-weight="normal" font-style="normal" fill="#000">Control</text>
<text transform="translate(647.6 292.8) scale(0.935 1)" font-size="15.8" text-anchor="middle" font-weight="normal" font-style="normal" fill="#000">(n = 9)</text>
<text transform="translate(723.5 270.8) scale(0.935 1)" font-size="15.8" text-anchor="middle" font-weight="normal" font-style="normal" fill="#000">T1DM</text>
<text transform="translate(725.3 292.8) scale(0.935 1)" font-size="15.8" text-anchor="middle" font-weight="normal" font-style="normal" fill="#000">(n = 9)</text>
<line x1="645.5" y1="72.3" x2="722.4" y2="72.3" stroke="#000" stroke-width="1.6" stroke-linecap="butt"/>
<text x="686" y="76.3" font-size="24" text-anchor="middle" font-weight="normal" font-style="normal" fill="#000">**</text>
<line x1="870.1" y1="72.05000000000003" x2="870.1" y2="254.75" stroke="#000" stroke-width="1.9" stroke-linecap="butt"/>
<line x1="862.1" y1="253.8" x2="1050" y2="253.8" stroke="#000" stroke-width="1.9" stroke-linecap="butt"/>
<line x1="862.1" y1="253.8" x2="870.1" y2="253.8" stroke="#000" stroke-width="1.8" stroke-linecap="butt"/>
<text transform="translate(860.7 259.40000000000003) scale(0.935 1)" font-size="15.8" text-anchor="end" font-weight="normal" font-style="normal" fill="#000">0</text>
<line x1="862.1" y1="208.60000000000002" x2="870.1" y2="208.60000000000002" stroke="#000" stroke-width="1.8" stroke-linecap="butt"/>
<text transform="translate(860.7 214.20000000000002) scale(0.935 1)" font-size="15.8" text-anchor="end" font-weight="normal" font-style="normal" fill="#000">5</text>
<line x1="862.1" y1="163.40000000000003" x2="870.1" y2="163.40000000000003" stroke="#000" stroke-width="1.8" stroke-linecap="butt"/>
<text transform="translate(860.7 169.00000000000003) scale(0.935 1)" font-size="15.8" text-anchor="end" font-weight="normal" font-style="normal" fill="#000">10</text>
<line x1="862.1" y1="118.20000000000002" x2="870.1" y2="118.20000000000002" stroke="#000" stroke-width="1.8" stroke-linecap="butt"/>
<text transform="translate(860.7 123.80000000000001) scale(0.935 1)" font-size="15.8" text-anchor="end" font-weight="normal" font-style="normal" fill="#000">15</text>
<line x1="862.1" y1="73.00000000000003" x2="870.1" y2="73.00000000000003" stroke="#000" stroke-width="1.8" stroke-linecap="butt"/>
<text transform="translate(860.7 78.60000000000002) scale(0.935 1)" font-size="15.8" text-anchor="end" font-weight="normal" font-style="normal" fill="#000">20</text>
<text x="819" y="162.6" font-size="17.3" text-anchor="middle" font-weight="bold" font-style="normal" fill="#000" transform="rotate(-90 819 162.6)">Δ<tspan dx="-2.4"> HR (bpm)</tspan></text>
<rect x="896.1" y="217.8" width="49.7" height="36" fill="#fff" stroke="#000" stroke-width="1.6"/>
<rect x="972.8" y="182.8" width="50.9" height="71" fill="#a8a8a8" stroke="#000" stroke-width="1.6"/>
<rect x="974.5" y="184.5" width="47.5" height="67.8" fill="none" stroke="#fff" stroke-opacity="0.28" stroke-width="1.3"/>
<circle cx="921" cy="192.1" r="3.5" fill="#fff" stroke="#000" stroke-width="1.7"/>
<circle cx="906.5" cy="201.7" r="3.5" fill="#fff" stroke="#000" stroke-width="1.7"/>
<circle cx="921" cy="208" r="3.5" fill="#fff" stroke="#000" stroke-width="1.7"/>
<circle cx="921" cy="216.7" r="3.5" fill="#fff" stroke="#000" stroke-width="1.7"/>
<circle cx="906.5" cy="219.2" r="3.5" fill="#fff" stroke="#000" stroke-width="1.7"/>
<circle cx="935.2" cy="222.2" r="3.5" fill="#fff" stroke="#000" stroke-width="1.7"/>
<circle cx="921" cy="224.9" r="3.5" fill="#fff" stroke="#000" stroke-width="1.7"/>
<circle cx="935.2" cy="231.6" r="3.5" fill="#fff" stroke="#000" stroke-width="1.7"/>
<circle cx="906.5" cy="238.7" r="3.5" fill="#fff" stroke="#000" stroke-width="1.7"/>
<line x1="921" y1="202.8" x2="921" y2="232" stroke="#2a2a2a" stroke-width="0.85" stroke-linecap="butt"/>
<line x1="914.6" y1="202.8" x2="927.4" y2="202.8" stroke="#2a2a2a" stroke-width="0.85" stroke-linecap="butt"/>
<line x1="914.6" y1="232" x2="927.4" y2="232" stroke="#2a2a2a" stroke-width="0.85" stroke-linecap="butt"/>
<circle cx="991" cy="100.1" r="5.0" fill="#fff" fill-opacity="0.4"/>
<circle cx="991" cy="100.1" r="3.85" fill="#000"/>
<circle cx="1005.6" cy="99.3" r="5.0" fill="#fff" fill-opacity="0.4"/>
<circle cx="1005.6" cy="99.3" r="3.85" fill="#000"/>
<circle cx="998.3" cy="180.1" r="5.0" fill="#fff" fill-opacity="0.4"/>
<circle cx="998.3" cy="180.1" r="3.85" fill="#000"/>
<circle cx="983.9" cy="190" r="5.0" fill="#fff" fill-opacity="0.4"/>
<circle cx="983.9" cy="190" r="3.85" fill="#000"/>
<circle cx="1013" cy="189.5" r="5.0" fill="#fff" fill-opacity="0.4"/>
<circle cx="1013" cy="189.5" r="3.85" fill="#000"/>
<circle cx="998.3" cy="194.7" r="5.0" fill="#fff" fill-opacity="0.4"/>
<circle cx="998.3" cy="194.7" r="3.85" fill="#000"/>
<circle cx="998.3" cy="217.8" r="5.0" fill="#fff" fill-opacity="0.4"/>
<circle cx="998.3" cy="217.8" r="3.85" fill="#000"/>
<circle cx="998.3" cy="228" r="5.0" fill="#fff" fill-opacity="0.4"/>
<circle cx="998.3" cy="228" r="3.85" fill="#000"/>
<circle cx="998.3" cy="240.9" r="5.0" fill="#fff" fill-opacity="0.4"/>
<circle cx="998.3" cy="240.9" r="3.85" fill="#000"/>
<line x1="998.3" y1="131.1" x2="998.3" y2="233.1" stroke="#000" stroke-width="1.15" stroke-linecap="butt"/>
<line x1="991.3" y1="131.1" x2="1005.3" y2="131.1" stroke="#000" stroke-width="1.15" stroke-linecap="butt"/>
<line x1="991.3" y1="233.1" x2="1005.3" y2="233.1" stroke="#000" stroke-width="1.15" stroke-linecap="butt"/>
<text transform="translate(918.9 270.3) scale(0.935 1)" font-size="15.8" text-anchor="middle" font-weight="normal" font-style="normal" fill="#000">Control</text>
<text transform="translate(920.8 292.9) scale(0.935 1)" font-size="15.8" text-anchor="middle" font-weight="normal" font-style="normal" fill="#000">(n = 9)</text>
<text transform="translate(996.3 270.3) scale(0.935 1)" font-size="15.8" text-anchor="middle" font-weight="normal" font-style="normal" fill="#000">T1DM</text>
<text transform="translate(997.9 292.9) scale(0.935 1)" font-size="15.8" text-anchor="middle" font-weight="normal" font-style="normal" fill="#000">(n = 9)</text>
<line x1="918.8" y1="71" x2="998.5" y2="71" stroke="#000" stroke-width="1.6" stroke-linecap="butt"/>
<text transform="translate(959.3 62.9) scale(0.935 1)" font-size="15.8" text-anchor="middle"><tspan font-style="italic">P</tspan> = 0.09</text>
<line x1="596.3" y1="366.95" x2="596.3" y2="549.95" stroke="#000" stroke-width="1.9" stroke-linecap="butt"/>
<line x1="588.3" y1="549.0" x2="777" y2="549.0" stroke="#000" stroke-width="1.9" stroke-linecap="butt"/>
<line x1="588.3" y1="549.0" x2="596.3" y2="549.0" stroke="#000" stroke-width="1.8" stroke-linecap="butt"/>
<text transform="translate(586.9 554.6) scale(0.935 1)" font-size="15.8" text-anchor="end" font-weight="normal" font-style="normal" fill="#000">0</text>
<line x1="588.3" y1="503.725" x2="596.3" y2="503.725" stroke="#000" stroke-width="1.8" stroke-linecap="butt"/>
<text transform="translate(586.9 509.32500000000005) scale(0.935 1)" font-size="15.8" text-anchor="end" font-weight="normal" font-style="normal" fill="#000">50</text>
<line x1="588.3" y1="458.45" x2="596.3" y2="458.45" stroke="#000" stroke-width="1.8" stroke-linecap="butt"/>
<text transform="translate(586.9 464.05) scale(0.935 1)" font-size="15.8" text-anchor="end" font-weight="normal" font-style="normal" fill="#000">100</text>
<line x1="588.3" y1="413.175" x2="596.3" y2="413.175" stroke="#000" stroke-width="1.8" stroke-linecap="butt"/>
<text transform="translate(586.9 418.77500000000003) scale(0.935 1)" font-size="15.8" text-anchor="end" font-weight="normal" font-style="normal" fill="#000">150</text>
<line x1="588.3" y1="367.9" x2="596.3" y2="367.9" stroke="#000" stroke-width="1.8" stroke-linecap="butt"/>
<text transform="translate(586.9 373.5) scale(0.935 1)" font-size="15.8" text-anchor="end" font-weight="normal" font-style="normal" fill="#000">200</text>
<text x="548" y="458.6" font-size="17.4" text-anchor="middle" font-weight="bold" font-style="normal" fill="#000" transform="rotate(-90 548 458.6)">Δ RSNA (%)</text>
<rect x="622.2" y="497.6" width="50.8" height="51.4" fill="#fff" stroke="#000" stroke-width="1.6"/>
<rect x="700.3" y="462.7" width="49.5" height="86.3" fill="#a8a8a8" stroke="#000" stroke-width="1.6"/>
<rect x="702" y="464.4" width="46.1" height="83.1" fill="none" stroke="#fff" stroke-opacity="0.28" stroke-width="1.3"/>
<circle cx="647.3" cy="476.2" r="3.5" fill="#fff" stroke="#000" stroke-width="1.7"/>
<circle cx="647.3" cy="483.2" r="3.5" fill="#fff" stroke="#000" stroke-width="1.7"/>
<circle cx="633.2" cy="493.5" r="3.5" fill="#fff" stroke="#000" stroke-width="1.7"/>
<circle cx="662.3" cy="494.7" r="3.5" fill="#fff" stroke="#000" stroke-width="1.7"/>
<circle cx="647.3" cy="497.8" r="3.5" fill="#fff" stroke="#000" stroke-width="1.7"/>
<circle cx="647.3" cy="506.8" r="3.5" fill="#fff" stroke="#000" stroke-width="1.7"/>
<circle cx="647.3" cy="526.3" r="3.5" fill="#fff" stroke="#000" stroke-width="1.7"/>
<line x1="647.3" y1="480.3" x2="647.3" y2="512.8" stroke="#2a2a2a" stroke-width="0.85" stroke-linecap="butt"/>
<line x1="640.6999999999999" y1="480.3" x2="653.9" y2="480.3" stroke="#2a2a2a" stroke-width="0.85" stroke-linecap="butt"/>
<line x1="640.6999999999999" y1="512.8" x2="653.9" y2="512.8" stroke="#2a2a2a" stroke-width="0.85" stroke-linecap="butt"/>
<circle cx="725.1" cy="415.3" r="5.0" fill="#fff" fill-opacity="0.4"/>
<circle cx="725.1" cy="415.3" r="3.85" fill="#000"/>
<circle cx="725.1" cy="449.2" r="5.0" fill="#fff" fill-opacity="0.4"/>
<circle cx="725.1" cy="449.2" r="3.85" fill="#000"/>
<circle cx="717.8" cy="477.8" r="5.0" fill="#fff" fill-opacity="0.4"/>
<circle cx="717.8" cy="477.8" r="3.85" fill="#000"/>
<circle cx="732.7" cy="478.7" r="5.0" fill="#fff" fill-opacity="0.4"/>
<circle cx="732.7" cy="478.7" r="3.85" fill="#000"/>
<circle cx="725.1" cy="489.3" r="5.0" fill="#fff" fill-opacity="0.4"/>
<circle cx="725.1" cy="489.3" r="3.85" fill="#000"/>
<line x1="725.1" y1="432.2" x2="725.1" y2="492.3" stroke="#000" stroke-width="1.15" stroke-linecap="butt"/>
<line x1="718.1" y1="432.2" x2="732.1" y2="432.2" stroke="#000" stroke-width="1.15" stroke-linecap="butt"/>
<line x1="718.1" y1="492.3" x2="732.1" y2="492.3" stroke="#000" stroke-width="1.15" stroke-linecap="butt"/>
<text transform="translate(645.2 565.2) scale(0.935 1)" font-size="15.8" text-anchor="middle" font-weight="normal" font-style="normal" fill="#000">Control</text>
<text transform="translate(647.8 587.6) scale(0.935 1)" font-size="15.8" text-anchor="middle" font-weight="normal" font-style="normal" fill="#000">(n = 7)</text>
<text transform="translate(723.5 565.2) scale(0.935 1)" font-size="15.8" text-anchor="middle" font-weight="normal" font-style="normal" fill="#000">T1DM</text>
<text transform="translate(725.3 587.6) scale(0.935 1)" font-size="15.8" text-anchor="middle" font-weight="normal" font-style="normal" fill="#000">(n = 5)</text>
<line x1="649" y1="397.3" x2="725.6" y2="397.3" stroke="#000" stroke-width="1.6" stroke-linecap="butt"/>
<text x="687" y="399.8" font-size="24" text-anchor="middle" font-weight="normal" font-style="normal" fill="#000">*</text>
<line x1="865.7" y1="367.95" x2="865.7" y2="550.85" stroke="#000" stroke-width="1.9" stroke-linecap="butt"/>
<line x1="857.7" y1="549.9" x2="1046" y2="549.9" stroke="#000" stroke-width="1.9" stroke-linecap="butt"/>
<line x1="857.7" y1="549.9" x2="865.7" y2="549.9" stroke="#000" stroke-width="1.8" stroke-linecap="butt"/>
<text transform="translate(856.3000000000001 555.5) scale(0.935 1)" font-size="15.8" text-anchor="end" font-weight="normal" font-style="normal" fill="#000">0.0</text>
<line x1="857.7" y1="513.6999999999999" x2="865.7" y2="513.6999999999999" stroke="#000" stroke-width="1.8" stroke-linecap="butt"/>
<text transform="translate(856.3000000000001 519.3) scale(0.935 1)" font-size="15.8" text-anchor="end" font-weight="normal" font-style="normal" fill="#000">0.2</text>
<line x1="857.7" y1="477.5" x2="865.7" y2="477.5" stroke="#000" stroke-width="1.8" stroke-linecap="butt"/>
<text transform="translate(856.3000000000001 483.1) scale(0.935 1)" font-size="15.8" text-anchor="end" font-weight="normal" font-style="normal" fill="#000">0.4</text>
<line x1="857.7" y1="441.29999999999995" x2="865.7" y2="441.29999999999995" stroke="#000" stroke-width="1.8" stroke-linecap="butt"/>
<text transform="translate(856.3000000000001 446.9) scale(0.935 1)" font-size="15.8" text-anchor="end" font-weight="normal" font-style="normal" fill="#000">0.6</text>
<line x1="857.7" y1="405.09999999999997" x2="865.7" y2="405.09999999999997" stroke="#000" stroke-width="1.8" stroke-linecap="butt"/>
<text transform="translate(856.3000000000001 410.7) scale(0.935 1)" font-size="15.8" text-anchor="end" font-weight="normal" font-style="normal" fill="#000">0.8</text>
<line x1="857.7" y1="368.9" x2="865.7" y2="368.9" stroke="#000" stroke-width="1.8" stroke-linecap="butt"/>
<text transform="translate(856.3000000000001 374.5) scale(0.935 1)" font-size="15.8" text-anchor="end" font-weight="normal" font-style="normal" fill="#000">1.0</text>
<text x="815.2" y="458.6" font-size="17.2" text-anchor="middle" font-weight="bold" font-style="normal" fill="#000" transform="rotate(-90 815.2 458.6)">Δ Tension (kg)</text>
<rect x="892.3" y="429.4" width="49.6" height="120.5" fill="#fff" stroke="#000" stroke-width="1.6"/>
<rect x="969.5" y="447.6" width="49.9" height="102.3" fill="#a8a8a8" stroke="#000" stroke-width="1.6"/>
<rect x="971.2" y="449.3" width="46.5" height="99.1" fill="none" stroke="#fff" stroke-opacity="0.28" stroke-width="1.3"/>
<circle cx="909.9" cy="387" r="3.5" fill="#fff" stroke="#000" stroke-width="1.7"/>
<circle cx="924.1" cy="385.3" r="3.5" fill="#fff" stroke="#000" stroke-width="1.7"/>
<circle cx="916.7" cy="413" r="3.5" fill="#fff" stroke="#000" stroke-width="1.7"/>
<circle cx="916.7" cy="421.4" r="3.5" fill="#fff" stroke="#000" stroke-width="1.7"/>
<circle cx="916.7" cy="437.6" r="3.5" fill="#fff" stroke="#000" stroke-width="1.7"/>
<circle cx="902.2" cy="444.4" r="3.5" fill="#fff" stroke="#000" stroke-width="1.7"/>
<circle cx="931.5" cy="449.4" r="3.5" fill="#fff" stroke="#000" stroke-width="1.7"/>
<circle cx="916.7" cy="449.4" r="3.5" fill="#fff" stroke="#000" stroke-width="1.7"/>
<circle cx="916.7" cy="468.7" r="3.5" fill="#fff" stroke="#000" stroke-width="1.7"/>
<line x1="916.9" y1="399.8" x2="916.9" y2="457.2" stroke="#1a1a1a" stroke-width="1.0" stroke-linecap="butt"/>
<line x1="909.9" y1="399.8" x2="923.9" y2="399.8" stroke="#1a1a1a" stroke-width="1.0" stroke-linecap="butt"/>
<line x1="909.9" y1="457.2" x2="923.9" y2="457.2" stroke="#1a1a1a" stroke-width="1.0" stroke-linecap="butt"/>
<circle cx="994.3" cy="408.3" r="5.0" fill="#fff" fill-opacity="0.4"/>
<circle cx="994.3" cy="408.3" r="3.85" fill="#000"/>
<circle cx="994.3" cy="416.4" r="5.0" fill="#fff" fill-opacity="0.4"/>
<circle cx="994.3" cy="416.4" r="3.85" fill="#000"/>
<circle cx="994.3" cy="425.1" r="5.0" fill="#fff" fill-opacity="0.4"/>
<circle cx="994.3" cy="425.1" r="3.85" fill="#000"/>
<circle cx="1001.7" cy="440.3" r="5.0" fill="#fff" fill-opacity="0.4"/>
<circle cx="1001.7" cy="440.3" r="3.85" fill="#000"/>
<circle cx="987.2" cy="446.7" r="5.0" fill="#fff" fill-opacity="0.4"/>
<circle cx="987.2" cy="446.7" r="3.85" fill="#000"/>
<circle cx="994.3" cy="455.5" r="5.0" fill="#fff" fill-opacity="0.4"/>
<circle cx="994.3" cy="455.5" r="3.85" fill="#000"/>
<circle cx="994.3" cy="469.7" r="5.0" fill="#fff" fill-opacity="0.4"/>
<circle cx="994.3" cy="469.7" r="3.85" fill="#000"/>
<circle cx="1001.7" cy="478.1" r="5.0" fill="#fff" fill-opacity="0.4"/>
<circle cx="1001.7" cy="478.1" r="3.85" fill="#000"/>
<circle cx="987.2" cy="479.8" r="5.0" fill="#fff" fill-opacity="0.4"/>
<circle cx="987.2" cy="479.8" r="3.85" fill="#000"/>
<line x1="994.4" y1="420" x2="994.4" y2="473" stroke="#000" stroke-width="1.15" stroke-linecap="butt"/>
<line x1="987.1999999999999" y1="420" x2="1001.6" y2="420" stroke="#000" stroke-width="1.15" stroke-linecap="butt"/>
<line x1="987.1999999999999" y1="473" x2="1001.6" y2="473" stroke="#000" stroke-width="1.15" stroke-linecap="butt"/>
<text transform="translate(914.7 565.2) scale(0.935 1)" font-size="15.8" text-anchor="middle" font-weight="normal" font-style="normal" fill="#000">Control</text>
<text transform="translate(918.1 589.2) scale(0.935 1)" font-size="15.8" text-anchor="middle" font-weight="normal" font-style="normal" fill="#000">(n = 9)</text>
<text transform="translate(992.5 565.2) scale(0.935 1)" font-size="15.8" text-anchor="middle" font-weight="normal" font-style="normal" fill="#000">T1DM</text>
<text transform="translate(995.5 589.2) scale(0.935 1)" font-size="15.8" text-anchor="middle" font-weight="normal" font-style="normal" fill="#000">(n = 9)</text>
</svg>
</body></html>
